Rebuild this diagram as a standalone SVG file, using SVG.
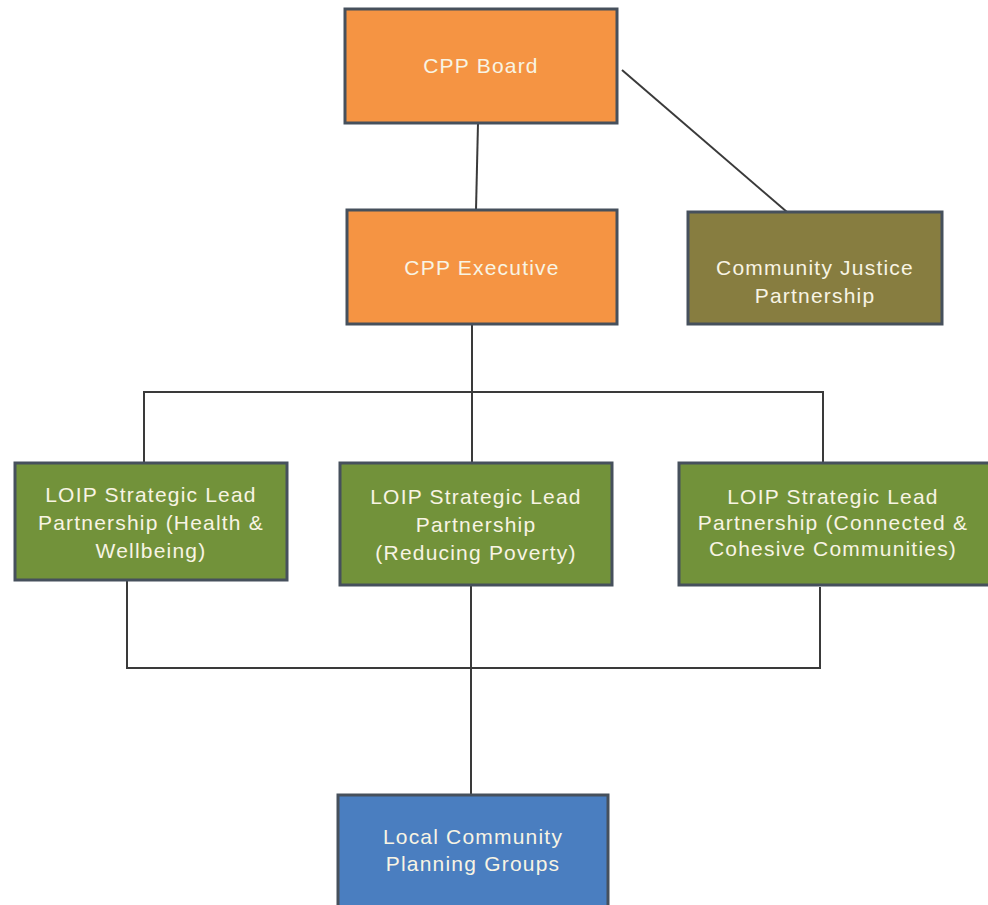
<svg xmlns="http://www.w3.org/2000/svg" width="988" height="905" viewBox="0 0 988 905">
<style>
.box{stroke:#46505c;stroke-width:3}
.orange{fill:#F59443}
.olive{fill:#877D40}
.green{fill:#72923A}
.blue{fill:#4A7EC0}
.t{font-family:"Liberation Sans",Arial,sans-serif;font-size:21px;letter-spacing:1.2px;fill:#F8F4E4;text-anchor:middle}
.c{fill:none;stroke:#3a3a3a;stroke-width:2}
</style>
<rect width="988" height="905" fill="#ffffff"/>
<g id="connectors">
<line class="c" x1="478" y1="123" x2="476" y2="210"/>
<line class="c" x1="622" y1="70" x2="787" y2="212"/>
<line class="c" x1="472" y1="324" x2="472" y2="463"/>
<polyline class="c" points="144,463 144,392 823,392 823,463"/>
<polyline class="c" points="127,580 127,668 820,668 820,587"/>
<line class="c" x1="471" y1="585" x2="471" y2="795"/>
</g>
<g id="cpp-board">
<rect class="box orange" x="345" y="9" width="272" height="114"/>
<text class="t" x="481" y="73">CPP Board</text>
</g>
<g id="cpp-executive">
<rect class="box orange" x="347" y="210" width="270" height="114"/>
<text class="t" x="482" y="275">CPP Executive</text>
</g>
<g id="community-justice">
<rect class="box olive" x="688" y="212" width="254" height="112"/>
<text class="t" x="815" y="275">Community Justice</text>
<text class="t" x="815" y="303">Partnership</text>
</g>
<g id="loip-health">
<rect class="box green" x="15" y="463" width="272" height="117"/>
<text class="t" x="151" y="502">LOIP Strategic Lead</text>
<text class="t" x="151" y="530">Partnership (Health &amp;</text>
<text class="t" x="151" y="558">Wellbeing)</text>
</g>
<g id="loip-poverty">
<rect class="box green" x="340" y="463" width="272" height="122"/>
<text class="t" x="476" y="504">LOIP Strategic Lead</text>
<text class="t" x="476" y="532">Partnership</text>
<text class="t" x="476" y="560">(Reducing Poverty)</text>
</g>
<g id="loip-connected">
<rect class="box green" x="679" y="463" width="312" height="122"/>
<text class="t" x="833" y="504">LOIP Strategic Lead</text>
<text class="t" x="833" y="530">Partnership (Connected &amp;</text>
<text class="t" x="833" y="556">Cohesive Communities)</text>
</g>
<g id="local-community">
<rect class="box blue" x="338" y="795" width="270" height="115"/>
<text class="t" x="473" y="844">Local Community</text>
<text class="t" x="473" y="871">Planning Groups</text>
</g>
</svg>
